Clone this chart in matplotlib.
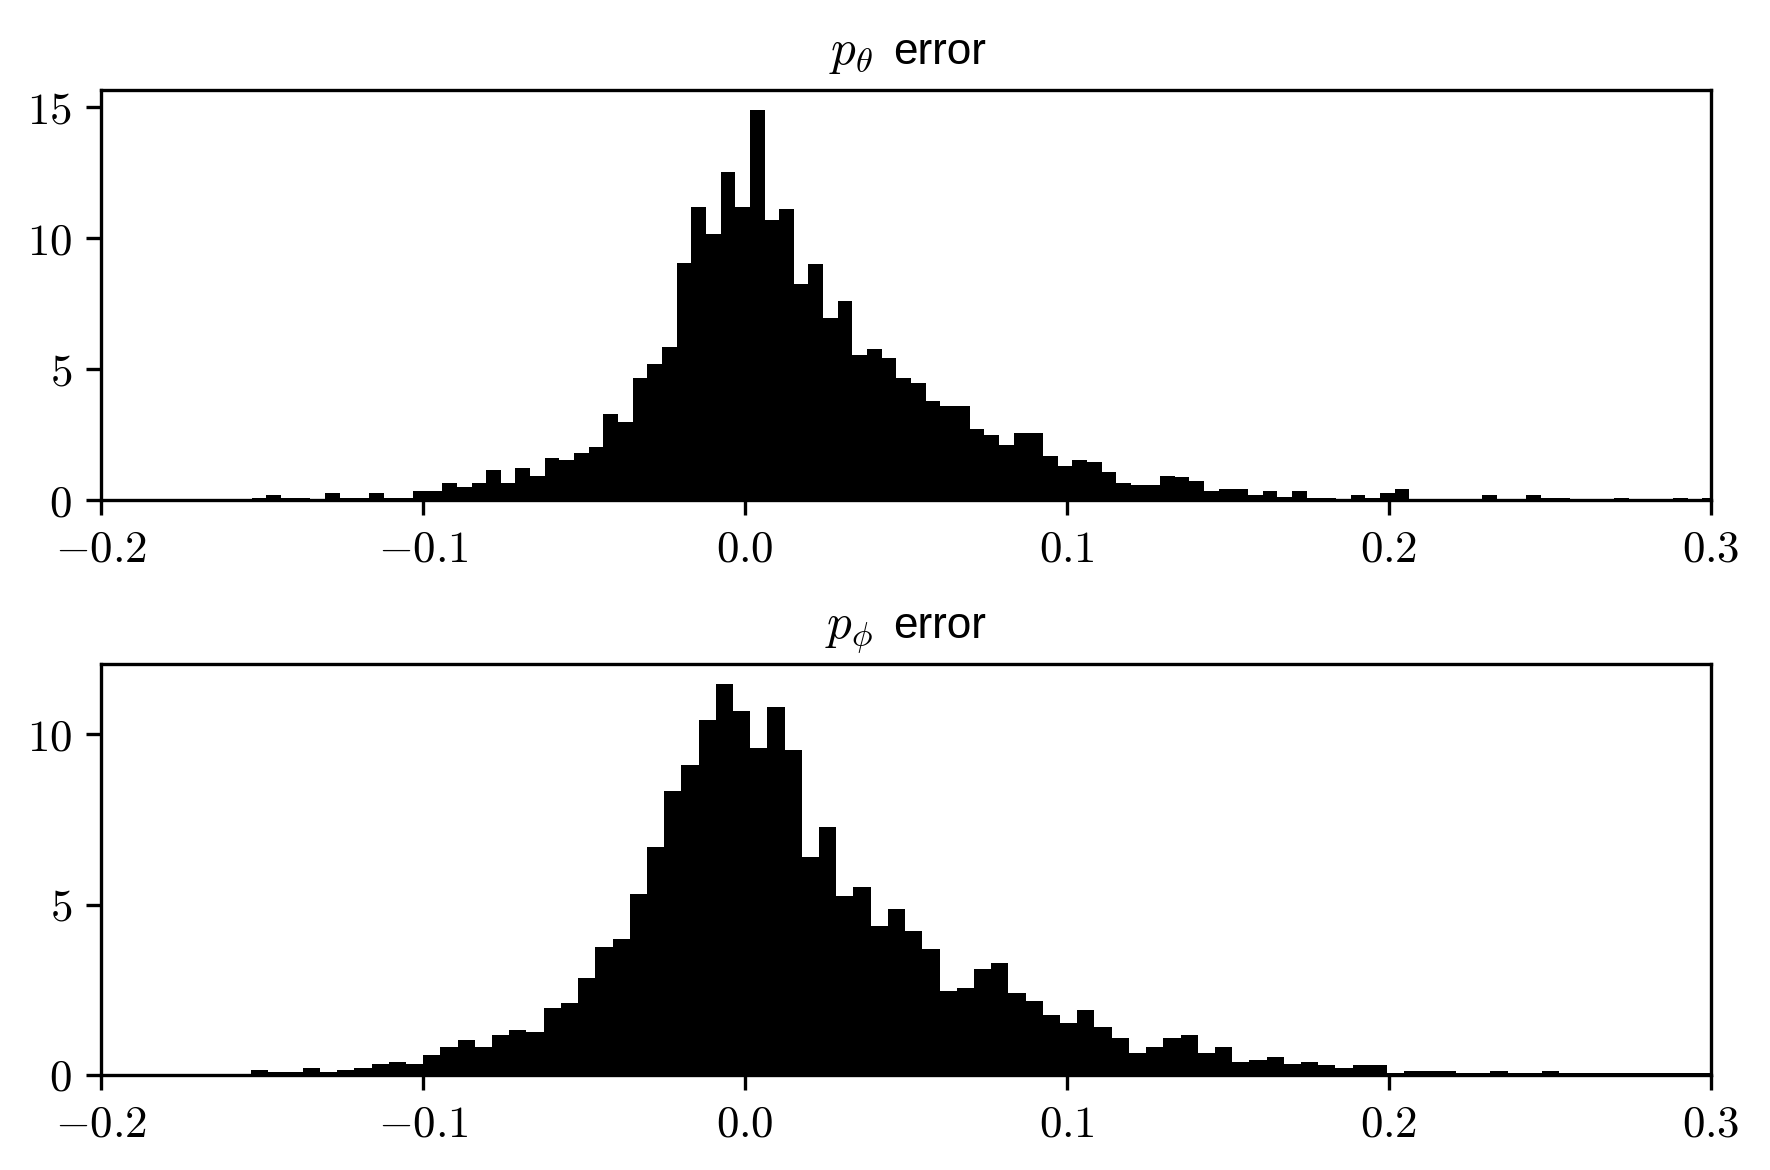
import numpy as np
import matplotlib
matplotlib.use("Agg")
import matplotlib.pyplot as plt
from matplotlib.transforms import offset_copy

plt.rcParams['mathtext.fontset'] = 'cm'
plt.rcParams['font.family'] = ['Liberation Sans', 'DejaVu Sans']

# histogram of p_theta error (density), equal width bins
theta_start = -0.1532
theta_width = 0.00455
theta_h = [0.09, 0.19, 0.09, 0.09, 0.05, 0.27, 0.09, 0.09, 0.27, 0.09,
           0.09, 0.36, 0.36, 0.65, 0.50, 0.65, 1.15, 0.65, 1.22, 0.92,
           1.60, 1.53, 1.81, 2.04, 3.30, 2.98, 4.67, 5.19, 5.85, 9.06,
           11.20, 10.15, 12.53, 11.20, 14.92, 10.69, 11.12, 8.26, 9.02, 6.95,
           7.61, 5.53, 5.78, 5.43, 4.67, 4.48, 3.78, 3.59, 3.59, 2.71,
           2.48, 2.10, 2.57, 2.57, 1.68, 1.30, 1.53, 1.45, 1.07, 0.65,
           0.57, 0.57, 0.92, 0.88, 0.73, 0.34, 0.42, 0.42, 0.19, 0.34,
           0.11, 0.34, 0.09, 0.09, 0.0, 0.19, 0.09, 0.27, 0.42, 0.0,
           0.0, 0.0, 0.0, 0.0, 0.19, 0.0, 0.0, 0.19, 0.09, 0.09,
           0.0, 0.0, 0.0, 0.09, 0.0, 0.0, 0.0, 0.09, 0.0, 0.09]

# histogram of p_phi error
phi_start = -0.1534
phi_width = 0.005345
phi_h = [0.16, 0.10, 0.10, 0.22, 0.10, 0.16, 0.22, 0.31, 0.37, 0.31,
         0.60, 0.81, 1.04, 0.81, 1.16, 1.31, 1.25, 1.98, 2.10, 2.86,
         3.75, 3.98, 5.30, 6.68, 8.35, 9.11, 10.41, 11.49, 10.67, 9.61,
         10.79, 9.55, 6.41, 7.29, 5.24, 5.53, 4.36, 4.86, 4.24, 3.69,
         2.48, 2.54, 3.10, 3.30, 2.42, 2.16, 1.75, 1.54, 1.92, 1.42,
         1.10, 0.66, 0.81, 1.10, 1.16, 0.66, 0.81, 0.37, 0.43, 0.54,
         0.31, 0.39, 0.29, 0.20, 0.29, 0.29, 0.07, 0.13, 0.13, 0.13,
         0.07, 0.07, 0.13, 0.07, 0.07, 0.13, 0.07, 0.07, 0.07, 0.07,
         0.07, 0.07, 0.07, 0.07, 0.07]

xticks = [-0.2, -0.1, 0.0, 0.1, 0.2, 0.3]
xlabels = [r'$-0.2$', r'$-0.1$', r'$0.0$', r'$0.1$', r'$0.2$', r'$0.3$']

panels = [(r'$p_\theta$', theta_start, theta_width, theta_h, [0, 5, 10, 15]),
          (r'$p_\phi$', phi_start, phi_width, phi_h, [0, 5, 10])]

fig = plt.figure(figsize=(5.9, 3.9), dpi=300)
rects = [[0.0571, 0.5726, 0.9096, 0.3505],
         [0.0571, 0.0812, 0.9096, 0.3513]]

for rect, (sym, start, width, h, yt) in zip(rects, panels):
    ax = fig.add_axes(rect)
    h = np.array(h)
    edges = start + width * np.arange(len(h) + 1)
    ax.stairs(h, edges, fill=True, color='black', linewidth=0)
    ax.set_xlim(-0.2, 0.3)
    ax.set_ylim(0, h.max() * 1.05)
    ax.set_xticks(xticks)
    ax.set_xticklabels(xlabels, fontsize=10.8)
    ax.set_yticks(yt)
    ax.set_yticklabels([r'$%d$' % v for v in yt], fontsize=10.8)
    # title: math symbol in CM, word in sans, as with usetex
    t1 = offset_copy(ax.transAxes, fig=fig, x=-33, y=26, units='dots')
    t2 = offset_copy(ax.transAxes, fig=fig, x=-13, y=26, units='dots')
    ax.text(0.5, 1.0, sym, transform=t1, ha='right', va='baseline', fontsize=11.8)
    ax.text(0.5, 1.0, 'error', transform=t2, ha='left', va='baseline', fontsize=10.6)

fig.savefig('out.png', dpi=300)
